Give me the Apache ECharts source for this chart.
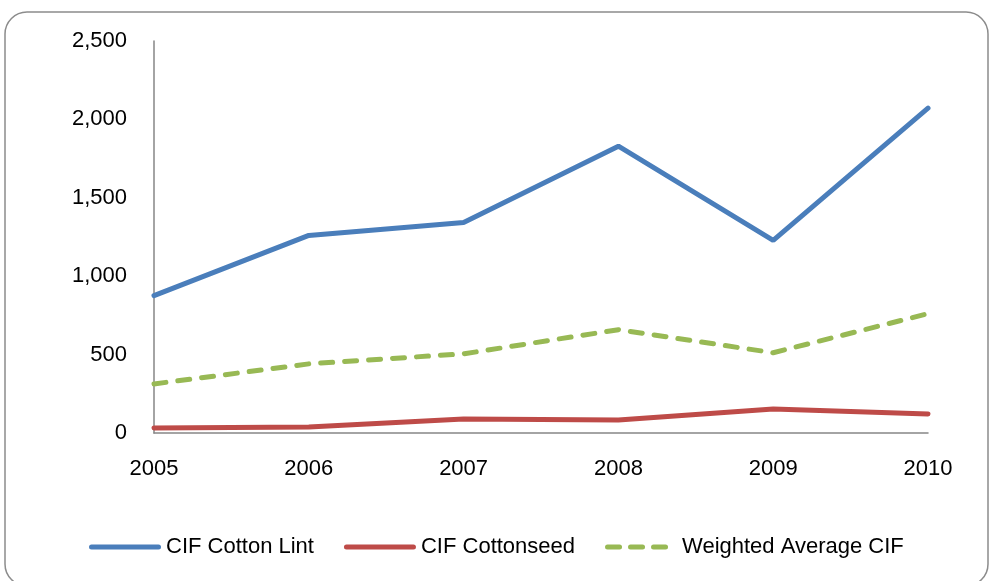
<!DOCTYPE html>
<html>
<head>
<meta charset="utf-8">
<script src="https://cdn.jsdelivr.net/npm/echarts@6/dist/echarts.min.js"></script>
<style>
html,body{margin:0;padding:0;background:#fff;}
#chart{width:993px;height:581px;}
</style>
</head>
<body>
<div id="chart"></div>
<script>
var years = ['2005', '2006', '2007', '2008', '2009', '2010']
var cottonLint = [876, 1260, 1343, 1829, 1228, 2072]
var cottonseed = [32, 38, 90, 83, 153, 121]
var weightedAvg = [313, 441, 505, 659, 512, 761]
var names = ['CIF Cotton Lint', 'CIF Cottonseed', 'Weighted Average CIF']
var colors = ['#4A7EBB', '#BE4B48', '#98B954']

var font = 'Liberation Sans'
var myChart = echarts.init(document.getElementById('chart'))

// legend icons: solid rounded bar, and three rounded dashes
var solidIcon = 'path://M2.5,0 H69.5 A2.5,2.5 0 0 1 69.5,5 H2.5 A2.5,2.5 0 0 1 2.5,0 Z'
var dashIcon = 'path://M2.5,0 H14.5 A2.5,2.5 0 0 1 14.5,5 H2.5 A2.5,2.5 0 0 1 2.5,0 Z' +
    ' M25.5,0 H37.5 A2.5,2.5 0 0 1 37.5,5 H25.5 A2.5,2.5 0 0 1 25.5,0 Z' +
    ' M48.5,0 H60.5 A2.5,2.5 0 0 1 60.5,5 H48.5 A2.5,2.5 0 0 1 48.5,0 Z' +
    ' M72,0 L72,5 L72,0 Z'

var seriesArr = [cottonLint, cottonseed, weightedAvg].map(function (d, i) {
    return {
        name: names[i],
        type: 'line',
        data: d,
        color: colors[i],
        symbol: 'none',
        lineStyle: {
            width: 5,
            color: colors[i],
            type: i === 2 ? [12, 12] : 'solid',
            cap: 'round'
        }
    }
})

var option = {
    animation: false,
    graphic: [{
        type: 'rect',
        shape: { x: 5, y: 12, width: 983, height: 574, r: 22 },
        style: { fill: 'none', stroke: '#8c8c8c', lineWidth: 1.5 },
        silent: true
    }],
    grid: {
        left: 154,
        right: 65,
        top: 41,
        bottom: 148
    },
    legend: {
        top: 531,
        left: 84,
        itemWidth: 72,
        itemHeight: 5,
        itemGap: 30,
        textStyle: { fontFamily: font, fontSize: 22, color: '#000' },
        data: [
            { name: names[0], icon: solidIcon },
            { name: names[1], icon: solidIcon },
            { name: names[2], icon: dashIcon }
        ]
    },
    xAxis: {
        type: 'category',
        boundaryGap: false,
        data: years,
        axisLine: { lineStyle: { color: '#868686', width: 1.5 } },
        axisTick: { show: false },
        axisLabel: { fontFamily: font, fontSize: 22, color: '#000', margin: 25 }
    },
    yAxis: {
        type: 'value',
        min: 0,
        max: 2500,
        interval: 500,
        axisLine: { show: true, lineStyle: { color: '#868686', width: 1.5 } },
        axisTick: { show: false },
        splitLine: { show: false },
        axisLabel: {
            fontFamily: font, fontSize: 22, color: '#000', margin: 27,
            formatter: function (v) { return v.toLocaleString('en-US') }
        }
    },
    series: seriesArr
}
myChart.setOption(option)
</script>
</body>
</html>
